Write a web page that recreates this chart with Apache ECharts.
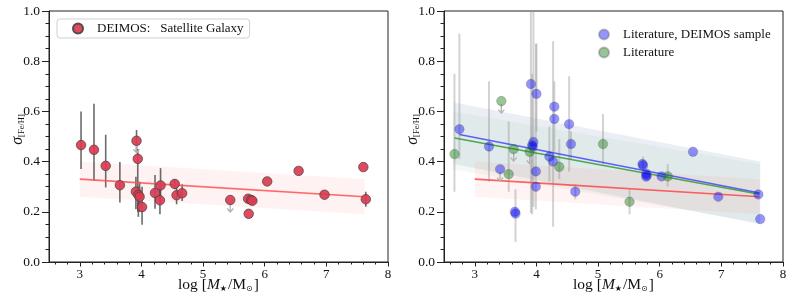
<!DOCTYPE html>
<html><head><meta charset="utf-8">
<script src="https://cdn.jsdelivr.net/npm/echarts@6/dist/echarts.min.js"></script>
<style>html,body{margin:0;padding:0;background:#fff}#c{width:793px;height:308px}</style>
</head><body><div id="c"></div>
<script>
// ---------- tick labels ----------
const xMajorTicks = [3, 4, 5, 6, 7, 8];
const xMinorTicks = [2.6, 2.8, 3.2, 3.4, 3.6, 3.8, 4.2, 4.4, 4.6, 4.8, 5.2, 5.4, 5.6, 5.8, 6.2, 6.4, 6.6, 6.8, 7.2, 7.4, 7.6, 7.8];

// ---------- left panel: DEIMOS satellites ----------
const deimosX = [3.02, 3.23, 3.42, 3.65, 3.92, 3.94, 3.91, 3.95, 3.97, 4.01, 4.22, 4.31, 4.30, 4.54, 4.57, 4.66, 5.44, 5.73, 5.74, 5.78, 5.80, 6.04, 6.55, 6.97, 7.60, 7.64];
const deimosY = [0.466, 0.447, 0.383, 0.306, 0.483, 0.411, 0.280, 0.267, 0.260, 0.219, 0.275, 0.305, 0.246, 0.311, 0.266, 0.274, 0.247, 0.252, 0.192, 0.247, 0.244, 0.321, 0.363, 0.268, 0.378, 0.250];
const deimosErrX  = [3.02, 3.23, 3.42, 3.65, 3.92, 3.94, 3.91, 3.95, 3.97, 4.01, 4.22, 4.31, 4.30, 4.54, 4.57, 4.66, 5.73, 7.64];
const deimosErrLo = [0.371, 0.324, 0.297, 0.237, 0.44, 0.20, 0.21, 0.18, 0.20, 0.148, 0.212, 0.23, 0.19, 0.29, 0.23, 0.243, 0.24, 0.22];
const deimosErrHi = [0.60, 0.63, 0.507, 0.398, 0.526, 0.45, 0.34, 0.30, 0.32, 0.30, 0.347, 0.374, 0.30, 0.33, 0.30, 0.31, 0.27, 0.28];
const deimosLimX = [3.92, 5.44];
const deimosLimY = [0.483, 0.247];

// ---------- right panel: literature ----------
const litDeimosX = [2.75, 3.23, 3.41, 3.65, 3.66, 3.91, 4.00, 3.95, 3.93, 3.94, 3.99, 3.99, 4.21, 4.27, 4.29, 4.29, 4.53, 4.56, 4.63, 5.72, 5.73, 5.78, 5.79, 5.78, 6.03, 6.54, 6.95, 7.60, 7.63];
const litDeimosY = [0.529, 0.460, 0.370, 0.200, 0.193, 0.709, 0.670, 0.478, 0.465, 0.460, 0.361, 0.300, 0.420, 0.400, 0.619, 0.570, 0.549, 0.470, 0.280, 0.390, 0.385, 0.352, 0.345, 0.340, 0.341, 0.439, 0.260, 0.269, 0.171];
const litX = [2.67, 3.43, 3.55, 3.63, 3.89, 4.37, 5.08, 5.51, 6.13];
const litY = [0.430, 0.641, 0.350, 0.450, 0.439, 0.379, 0.470, 0.240, 0.341];
const litErrX  = [2.67, 2.75, 3.23, 3.55, 3.66, 3.91, 3.93, 3.95, 3.99, 4.00, 4.21, 4.27, 4.29, 4.37, 4.53, 4.56, 4.63, 5.08, 5.51, 5.73, 6.13];
const litErrLo = [0.28, 0.41, 0.32, 0.28, 0.08, 0.195, 0.19, 0.22, 0.21, 0.52, 0.32, 0.14, 0.44, 0.33, 0.36, 0.41, 0.25, 0.39, 0.19, 0.37, 0.30];
const litErrHi = [0.75, 0.91, 0.72, 0.56, 0.29, 1.05, 0.75, 1.05, 0.87, 0.87, 0.54, 0.88, 0.72, 0.49, 0.74, 0.52, 0.31, 0.59, 0.29, 0.42, 0.39];
const litLimX = [3.41, 3.43, 3.63, 3.89];
const litLimY = [0.370, 0.641, 0.450, 0.439];

// ---------- fits & confidence bands ----------
const fitRedX = [3.0, 7.62],  fitRedY = [0.330, 0.260],  bandRedLo = [0.26, 0.19],  bandRedHi = [0.40, 0.33];
const fitBlueX = [2.75, 7.62], fitBlueY = [0.508, 0.275], bandBlueLo = [0.39, 0.15], bandBlueHi = [0.635, 0.40];
const fitGreenX = [2.67, 7.62], fitGreenY = [0.494, 0.270], bandGreenLo = [0.37, 0.155], bandGreenHi = [0.60, 0.39];
const bandBlueX = [2.66, 7.63], bandGreenX = [2.64, 7.63];

// ---------- styling ----------
const FONT = 'Liberation Serif';
const TXT = '#111';
const pairs = (xs, ys) => xs.map((x, i) => [x, ys[i]]);
const triples = (xs, a, b) => xs.map((x, i) => [x, a[i], b[i]]);

function errRender(color, width) {
  return function (params, api) {
    const x = api.value(0), lo = api.value(1), hi = api.value(2);
    const p1 = api.coord([x, lo]), p2 = api.coord([x, hi]);
    return { type: 'line', shape: { x1: p1[0], y1: p1[1], x2: p2[0], y2: p2[1] },
             style: { stroke: color, lineWidth: width } };
  };
}
function arrowRender(color) {
  return function (params, api) {
    const p = api.coord([api.value(0), api.value(1)]);
    return { type: 'group', children: [
      { type: 'line', shape: { x1: p[0], y1: p[1] + 3, x2: p[0], y2: p[1] + 12 }, style: { stroke: color, lineWidth: 1.3 } },
      { type: 'polyline', shape: { points: [[p[0] - 3, p[1] + 8.5], [p[0], p[1] + 12], [p[0] + 3, p[1] + 8.5]] }, style: { stroke: color, lineWidth: 1.3, fill: null } }
    ] };
  };
}
function bandSeries(xi, xs, lo, hi, color) {
  return {
    type: 'custom', xAxisIndex: xi, yAxisIndex: xi, z: 1, silent: true, clip: true,
    data: triples(xs, lo, hi),
    renderItem: function (params, api) {
      if (params.dataIndex !== 0) return null;
      const pts = [];
      for (let i = 0; i < xs.length; i++) pts.push(api.coord([xs[i], hi[i]]));
      for (let i = xs.length - 1; i >= 0; i--) pts.push(api.coord([xs[i], lo[i]]));
      return { type: 'polygon', shape: { points: pts }, style: { fill: color, stroke: null } };
    }
  };
}
function fitSeries(xi, xs, ys, color) {
  return { type: 'line', xAxisIndex: xi, yAxisIndex: xi, z: 3, silent: true, showSymbol: false,
           data: pairs(xs, ys), lineStyle: { color: color, width: 1.6 } };
}

const richX = {
  n: { fontFamily: FONT, fontSize: 15.5, color: TXT },
  i: { fontFamily: FONT, fontSize: 15.5, fontStyle: 'italic', color: TXT },
  s: { fontFamily: 'DejaVu Sans', fontSize: 8, color: TXT, verticalAlign: 'bottom', padding: [6, 1, 0, 0] }
};
const richY = {
  a: { fontFamily: FONT, fontSize: 16, fontStyle: 'italic', color: TXT, padding: [0, 0, 0, 14] },
  b: { fontFamily: FONT, fontSize: 8.5, color: TXT, verticalAlign: 'bottom', padding: [6, 0, 0, 0] }
};

function xAxisMain(gi) {
  return {
    type: 'value', gridIndex: gi, min: 2.5, max: 8, position: 'bottom',
    name: '{n|log [}{i|M}{s|★}{n|/M}{s|⊙}{n|]}', nameLocation: 'middle', nameGap: 15, nameMoveOverlap: false,
    nameTextStyle: { rich: richX },
    axisLine: { show: true, lineStyle: { color: '#222', width: 1 } },
    axisTick: { show: true, length: 4.5, customValues: xMajorTicks, lineStyle: { color: '#222' } },
    axisLabel: { customValues: xMajorTicks, margin: 6, fontFamily: FONT, fontSize: 13, color: TXT },
    splitLine: { show: false }
  };
}
function xAxisMinor(gi) {
  return {
    type: 'value', gridIndex: gi, min: 2.5, max: 8, position: 'bottom',
    axisLine: { show: false },
    axisTick: { show: true, length: 2.5, customValues: xMinorTicks, lineStyle: { color: '#222' } },
    axisLabel: { show: false }, splitLine: { show: false }
  };
}
function yAxisMain(gi) {
  return {
    type: 'value', gridIndex: gi, min: 0, max: 1, interval: 0.2,
    name: '{a|σ}{b|[Fe/H]}', nameLocation: 'middle', nameGap: 23, nameRotate: 90, nameMoveOverlap: false,
    nameTextStyle: { rich: richY },
    axisLine: { show: true, lineStyle: { color: '#222', width: 1 } },
    axisTick: { show: true, length: 7, lineStyle: { color: '#222' } },
    minorTick: { show: true, splitNumber: 4, length: 3.5, lineStyle: { color: '#222' } },
    axisLabel: { margin: 9, fontFamily: FONT, fontSize: 13.5, color: TXT, formatter: v => v.toFixed(1) },
    splitLine: { show: false }
  };
}

const RED = '#dd3a50';
const BLUE = 'rgba(0,0,255,0.52)';
const GREEN = 'rgba(30,130,30,0.58)';

const option = {
  animation: false,
  backgroundColor: '#fff',
  grid: [
    { left: 49, right: 405, top: 11, bottom: 46, show: true, borderColor: '#222', borderWidth: 1, backgroundColor: 'transparent' },
    { left: 444, right: 10, top: 11, bottom: 46, show: true, borderColor: '#222', borderWidth: 1, backgroundColor: 'transparent' }
  ],
  xAxis: [xAxisMain(0), xAxisMain(1), xAxisMinor(0), xAxisMinor(1)],
  yAxis: [yAxisMain(0), yAxisMain(1)],
  legend: [
    { data: ['DEIMOS:   Satellite Galaxy'], left: 57, top: 19, padding: [3, 6, 3, 15],
      borderColor: '#d0d0d0', borderWidth: 1, borderRadius: 3, icon: 'circle', itemWidth: 10, itemHeight: 10,
      textStyle: { fontFamily: FONT, fontSize: 13, color: TXT, padding: [0, 0, 0, 9] } },
    { data: ['Literature, DEIMOS sample', 'Literature'], left: 593, top: 23, orient: 'vertical', itemGap: 5,
      icon: 'circle', itemWidth: 10, itemHeight: 10,
      textStyle: { fontFamily: FONT, fontSize: 13, color: TXT, padding: [0, 0, 0, 9] } }
  ],
  series: [
    // left panel
    bandSeries(0, fitRedX, bandRedLo, bandRedHi, 'rgba(255,110,110,0.09)'),
    { type: 'custom', xAxisIndex: 0, yAxisIndex: 0, z: 2, silent: true, clip: true,
      data: triples(deimosErrX, deimosErrLo, deimosErrHi), renderItem: errRender('rgba(70,70,70,0.8)', 1.6) },
    fitSeries(0, fitRedX, fitRedY, 'rgba(255,80,80,0.85)'),
    { type: 'custom', xAxisIndex: 0, yAxisIndex: 0, z: 4, silent: true,
      data: pairs(deimosLimX, deimosLimY), renderItem: arrowRender('#b0b0b0') },
    { name: 'DEIMOS:   Satellite Galaxy', type: 'scatter', xAxisIndex: 0, yAxisIndex: 0, z: 5,
      symbol: 'circle', symbolSize: 9.5, data: pairs(deimosX, deimosY),
      itemStyle: { color: RED, opacity: 0.92, borderColor: '#444', borderWidth: 0.8 } },

    // right panel
    bandSeries(1, bandBlueX, bandBlueLo, bandBlueHi, 'rgba(120,150,190,0.15)'),
    bandSeries(1, bandGreenX, bandGreenLo, bandGreenHi, 'rgba(130,190,130,0.09)'),
    bandSeries(1, fitRedX, bandRedLo, bandRedHi, 'rgba(255,120,120,0.09)'),
    { type: 'custom', xAxisIndex: 1, yAxisIndex: 1, z: 2, silent: true, clip: true,
      data: triples(litErrX, litErrLo, litErrHi), renderItem: errRender('rgba(150,150,150,0.42)', 2) },
    fitSeries(1, fitRedX, fitRedY, 'rgba(255,70,70,0.85)'),
    fitSeries(1, fitBlueX, fitBlueY, 'rgba(60,60,255,0.8)'),
    fitSeries(1, fitGreenX, fitGreenY, 'rgba(40,150,40,0.8)'),
    { type: 'custom', xAxisIndex: 1, yAxisIndex: 1, z: 4, silent: true,
      data: pairs(litLimX, litLimY), renderItem: arrowRender('#b0b0b0') },
    { name: 'Literature, DEIMOS sample', type: 'scatter', xAxisIndex: 1, yAxisIndex: 1, z: 5,
      symbol: 'circle', symbolSize: 9.5, data: pairs(litDeimosX, litDeimosY),
      itemStyle: { color: BLUE, borderColor: 'rgba(90,90,90,0.45)', borderWidth: 0.8 } },
    { name: 'Literature', type: 'scatter', xAxisIndex: 1, yAxisIndex: 1, z: 5,
      symbol: 'circle', symbolSize: 9.5, data: pairs(litX, litY),
      itemStyle: { color: GREEN, borderColor: 'rgba(90,90,90,0.45)', borderWidth: 0.8 } }
  ]
};

const chart = echarts.init(document.getElementById('c'), null, { renderer: 'canvas' });
chart.setOption(option);
</script>
</body></html>
